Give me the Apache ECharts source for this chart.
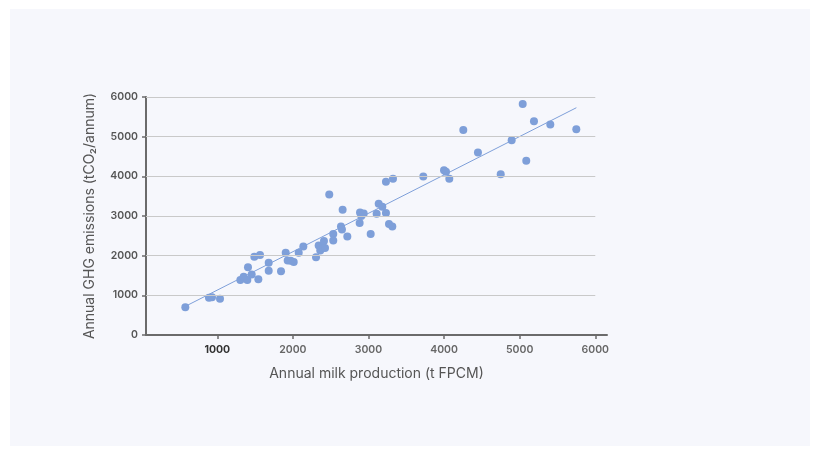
<!DOCTYPE html>
<html>
<head>
<meta charset="utf-8">
<script src="https://cdn.jsdelivr.net/npm/echarts@6/dist/echarts.min.js"></script>
<style>
  html, body { margin: 0; padding: 0; background: #ffffff; }
  #panel { position: absolute; left: 10px; top: 9px; width: 800px; height: 437px; background: #f6f7fc; }
  #chart { position: absolute; left: 0; top: 0; width: 819px; height: 454px; }
</style>
</head>
<body>
<div id="panel"></div>
<div id="chart"></div>
<script>
// Annual milk production (t FPCM)
const milkProduction = [577,890,930,1036,1305,1349,1397,1455,1406,1543,1490,1565,1680,1680,1843,1905,1931,1971,2011,2077,2138,2306,2341,2362,2402,2411,2425,2481,2534,2534,2636,2649,2658,2720,2883,2888,2905,2937,3029,3108,3135,3183,3231,3231,3324,3271,3315,3725,3999,4025,4069,4254,4448,4749,4894,5040,5087,5189,5405,5749];
// Annual GHG emissions (tCO2/annum)
const ghgEmissions = [698,940,950,915,1385,1470,1385,1528,1705,1403,1972,2015,1821,1620,1604,2073,1881,1872,1839,2073,2234,1957,2259,2133,2199,2368,2191,3544,2544,2385,2738,2662,3156,2486,2821,3091,2997,3065,2544,3055,3307,3232,3861,3073,3937,2796,2738,3997,4156,4113,3937,5171,4602,4055,4912,5826,4390,5390,5307,5189];
// trend line end points
const trendX = [590, 5750];
const trendY = [735, 5730];
// tick labels
const xTicks = [1000, 2000, 3000, 4000, 5000, 6000];
const yTicks = [0, 1000, 2000, 3000, 4000, 5000, 6000];

const xMin = 57, xMax = 6155;
const dotColor = '#7e9fd9';
const fontFam = 'Inter, "Open Sans", sans-serif';

const chart = echarts.init(document.getElementById('chart'), null, { renderer: 'canvas' });
chart.setOption({
  animation: false,
  grid: { left: 146, right: 212, top: 97, bottom: 119, containLabel: false },
  xAxis: {
    type: 'value', min: xMin, max: xMax,
    name: 'Annual milk production (t FPCM)', nameLocation: 'middle', nameGap: 32,
    nameTextStyle: { color: '#555', fontSize: 14, fontFamily: fontFam },
    axisLine: { show: true, onZero: false, lineStyle: { color: '#6b6b6b', width: 2 } },
    axisTick: { show: true, length: 4, customValues: xTicks, lineStyle: { color: '#6b6b6b', width: 1.5 } },
    axisLabel: {
      customValues: xTicks, margin: 9, color: '#666', fontSize: 10.5, fontWeight: 600, fontFamily: fontFam,
      formatter: v => v === 1000 ? '{b|' + v + '}' : String(v),
      rich: { b: { color: '#333', fontSize: 10.5, fontWeight: 700, fontFamily: fontFam } }
    },
    splitLine: { show: false }
  },
  yAxis: {
    type: 'value', min: 0, max: 6000, interval: 1000,
    name: 'Annual GHG emissions (tCO₂/annum)', nameLocation: 'middle', nameGap: 49,
    nameTextStyle: { color: '#555', fontSize: 14, fontFamily: fontFam },
    axisLine: { show: true, lineStyle: { color: '#6b6b6b', width: 2 } },
    axisTick: { show: true, length: 4, lineStyle: { color: '#6b6b6b', width: 1.5 } },
    axisLabel: { margin: 8, color: '#555', fontSize: 10.5, fontWeight: 600, fontFamily: fontFam, formatter: v => String(v) },
    splitLine: { show: false }
  },
  series: [
    {
      type: 'line', data: [], silent: true,
      markLine: {
        silent: true, symbol: 'none', label: { show: false }, animation: false,
        lineStyle: { color: '#c9c9c9', width: 1, type: 'solid' },
        data: yTicks.filter(v => v > 0).map(v => [{ coord: [xMin, v] }, { coord: [6000, v] }])
      }
    },
    {
      type: 'line', data: trendX.map((x, i) => [x, trendY[i]]),
      symbol: 'none', lineStyle: { color: dotColor, width: 1 }, silent: true, z: 3
    },
    {
      type: 'scatter', data: milkProduction.map((x, i) => [x, ghgEmissions[i]]),
      symbolSize: 8, itemStyle: { color: dotColor, opacity: 1 }, z: 4
    }
  ]
});
</script>
</body>
</html>
